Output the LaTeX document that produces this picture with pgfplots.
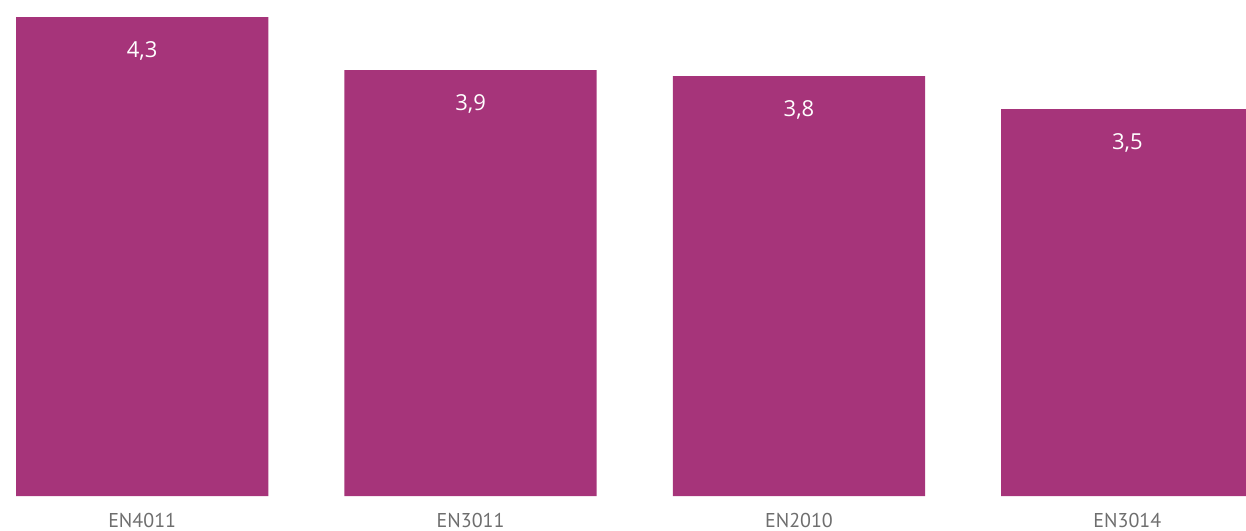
\documentclass[border=0pt]{standalone}
\usepackage{pgfplots}
\pgfplotsset{compat=1.18}
\usepackage{fontspec}
\setmainfont{Open Sans}
\newfontfamily\labelfont{PT Sans}
\definecolor{barc}{RGB}{166,52,122}
\definecolor{tickc}{RGB}{110,110,110}
\begin{document}
\begin{tikzpicture}
\useasboundingbox (0,-17pt) rectangle (623pt,248pt);
\begin{axis}[
  at={(0,0)}, anchor=south west,
  scale only axis,
  width=623pt, height=248pt,
  xmin=-0.4329, xmax=3.3659,
  ymin=0, ymax=4.485,
  axis line style={draw=none},
  major tick length=0pt,
  ytick=\empty,
  xtick={0,1,2,3},
  xticklabels={EN4011,EN3011,EN2010,EN3014},
  xticklabel style={font=\labelfont\fontsize{10}{12}\selectfont, text=tickc, anchor=center, yshift=-12pt},
  ybar, bar width=0.7683,
  nodes near coords,
  point meta=explicit symbolic,
  nodes near coords style={font=\fontsize{11}{13}\selectfont, text=white, anchor=center, yshift=-17pt},
]
\addplot[fill=barc, draw=none] table[meta=lab] {
x y lab
0 4.33 {4,3}
1 3.852 {3,9}
2 3.797 {3,8}
3 3.499 {3,5}
};
\end{axis}
\end{tikzpicture}
\end{document}
